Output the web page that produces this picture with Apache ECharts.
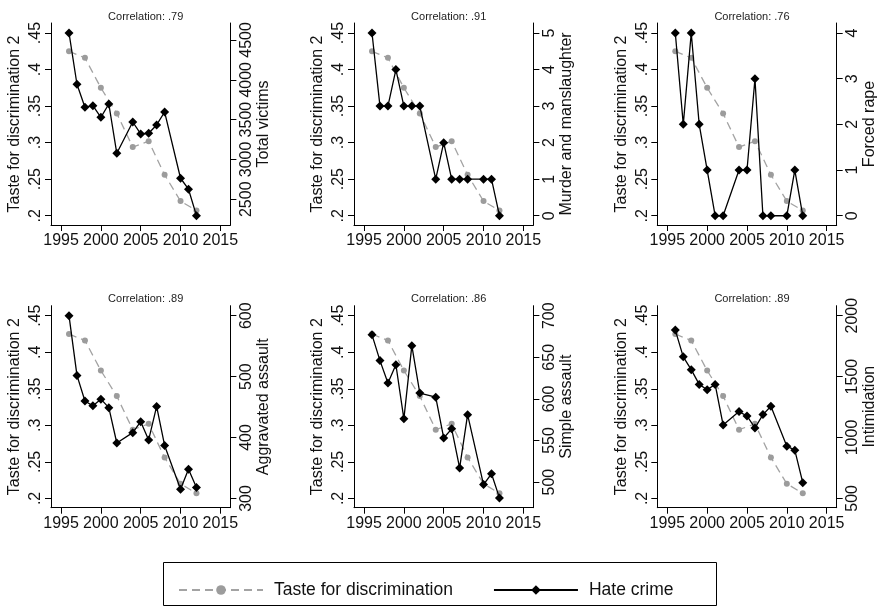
<!DOCTYPE html>
<html>
<head>
<meta charset="utf-8">
<script src="https://cdn.jsdelivr.net/npm/echarts@6/dist/echarts.min.js"></script>
<style>
html,body{margin:0;padding:0;background:#fff;}
#chart{width:879px;height:607px;}
</style>
</head>
<body>
<div id="chart"></div>
<script>
// ---- data ----
const crimeYears = [1996,1997,1998,1999,2000,2001,2002,2004,2005,2006,2007,2008,2010,2011,2012];
const tasteYears = [1996,1998,2000,2002,2004,2006,2008,2010,2012];
const tasteValues = [0.425,0.416,0.375,0.340,0.294,0.302,0.256,0.220,0.207];
const totalVictims = [4588,3944,3655,3675,3529,3696,3077,3470,3320,3329,3433,3596,2764,2626,2294];
const murderManslaughter = [5,3,3,4,3,3,3,1,2,1,1,1,1,1,0];
const forcedRape = [4,2,4,2,1,0,0,1,1,3,0,0,0,1,0];
const aggravatedAssault = [600,502,460,452,463,449,391,408,426,396,451,387,315,348,318];
const simpleAssault = [677,646,619,641,576,664,607,602,553,564,517,581,497,510,481];
const intimidation = [1882,1662,1557,1436,1392,1436,1103,1213,1177,1078,1188,1257,929,896,629];
const correlations = ['.79','.91','.76','.89','.86','.89'];
const rightNames = ['Total victims','Murder and manslaughter','Forced rape','Aggravated assault','Simple assault','Intimidation'];
const leftName = 'Taste for discrimination 2';
const leftTicks = [0.2,0.25,0.3,0.35,0.4,0.45];
const xTicks = [1995,2000,2005,2010,2015];
const rightTicks = [
  [2500,3000,3500,4000,4500],
  [0,1,2,3,4,5],
  [0,1,2,3,4],
  [300,400,500,600],
  [500,550,600,650,700],
  [500,1000,1500,2000]
];
const crimeSeries = [totalVictims, murderManslaughter, forcedRape, aggravatedAssault, simpleAssault, intimidation];
const legendNames = ['Taste for discrimination','Hate crime'];

// ---- layout ----
const FONT = 'Liberation Sans, Arial, Helvetica, sans-serif';
const gridLefts = [51, 354, 657.3];
const gridTops = [23, 305.7];
const gridW = 179.4, gridH = 202;
const leftRange = [0.1873, 0.4637];
const xRange = [1993.74, 2016.26];
const rightRanges = [[2177,4713],[-0.254,5.274],[-0.203,4.219],[284.8,616.4],[469.2,712.0],[423.8,2082]];

const plain = function(v){ return String(v); };
const grids = [], xAxes = [], yAxes = [], series = [], titles = [];
function tick(vals){ return {show:true, length:6, inside:false, lineStyle:{color:'#000', width:1}, customValues:vals}; }
function label(vals, extra){
  return Object.assign({show:true, customValues:vals, hideOverlap:false, showMinLabel:true, showMaxLabel:true,
    fontFamily:FONT, fontSize:16, color:'#111', formatter:plain}, extra||{});
}
for (let i = 0; i < 6; i++) {
  const col = i % 3, row = Math.floor(i / 3);
  const left = gridLefts[col], top = gridTops[row];
  grids.push({left:left, top:top, width:gridW, height:gridH, containLabel:false});
  titles.push({
    text:'Correlation: ' + correlations[i],
    left:left + gridW/2, top:top - 17, textAlign:'center',
    textStyle:{fontFamily:FONT, fontSize:11, fontWeight:'normal', color:'#222'}
  });
  xAxes.push({
    type:'value', gridIndex:i, min:xRange[0], max:xRange[1],
    axisLine:{show:true, onZero:false, lineStyle:{color:'#000', width:1}},
    axisTick:tick(xTicks),
    axisLabel:label(xTicks, {margin:8}),
    splitLine:{show:false}
  });
  yAxes.push({
    type:'value', gridIndex:i, position:'left', min:leftRange[0], max:leftRange[1],
    name:leftName, nameLocation:'middle', nameRotate:90, nameGap:28,
    nameTextStyle:{fontFamily:FONT, fontSize:16, color:'#111'},
    axisLine:{show:true, onZero:false, lineStyle:{color:'#000', width:1}},
    axisTick:tick(leftTicks),
    axisLabel:label(leftTicks, {rotate:90, margin:7,
      formatter:function(v){ return String(Math.round(v*100)/100).replace(/^0/, ''); }}),
    splitLine:{show:false}
  });
  yAxes.push({
    type:'value', gridIndex:i, position:'right', min:rightRanges[i][0], max:rightRanges[i][1],
    name:rightNames[i], nameLocation:'middle', nameRotate:90, nameGap:25,
    nameTextStyle:{fontFamily:FONT, fontSize:16, color:'#111'},
    axisLine:{show:true, onZero:false, lineStyle:{color:'#000', width:1}},
    axisTick:tick(rightTicks[i]),
    axisLabel:label(rightTicks[i], {rotate:90, margin:8}),
    splitLine:{show:false}
  });
  series.push({
    name:legendNames[0], type:'line', xAxisIndex:i, yAxisIndex:2*i,
    data:tasteYears.map((y,k)=>[y, tasteValues[k]]),
    symbol:'circle', symbolSize:6,
    lineStyle:{color:'#a3a3a3', width:1.3, type:[8,5]},
    itemStyle:{color:'#9c9c9c'}, z:2
  });
  series.push({
    name:legendNames[1], type:'line', xAxisIndex:i, yAxisIndex:2*i+1,
    data:crimeYears.map((y,k)=>[y, crimeSeries[i][k]]),
    symbol:'diamond', symbolSize:9,
    lineStyle:{color:'#000', width:1.3, type:'solid'},
    itemStyle:{color:'#000'}, z:3
  });
}

const chart = echarts.init(document.getElementById('chart'), null, {renderer:'canvas'});
chart.setOption({
  backgroundColor:'#fff',
  animation:false,
  title:titles,
  grid:grids,
  xAxis:xAxes,
  yAxis:yAxes,
  series:series,
  legend:{
    data:legendNames, left:173, top:576, itemWidth:84, itemHeight:12, itemGap:40,
    textStyle:{fontFamily:FONT, fontSize:17.5, color:'#111', padding:[0,0,0,6]}
  },
  graphic:[{
    type:'rect', shape:{x:163.5, y:562.5, width:553, height:43},
    style:{fill:'none', stroke:'#000', lineWidth:1}, silent:true
  }]
});
</script>
</body>
</html>
